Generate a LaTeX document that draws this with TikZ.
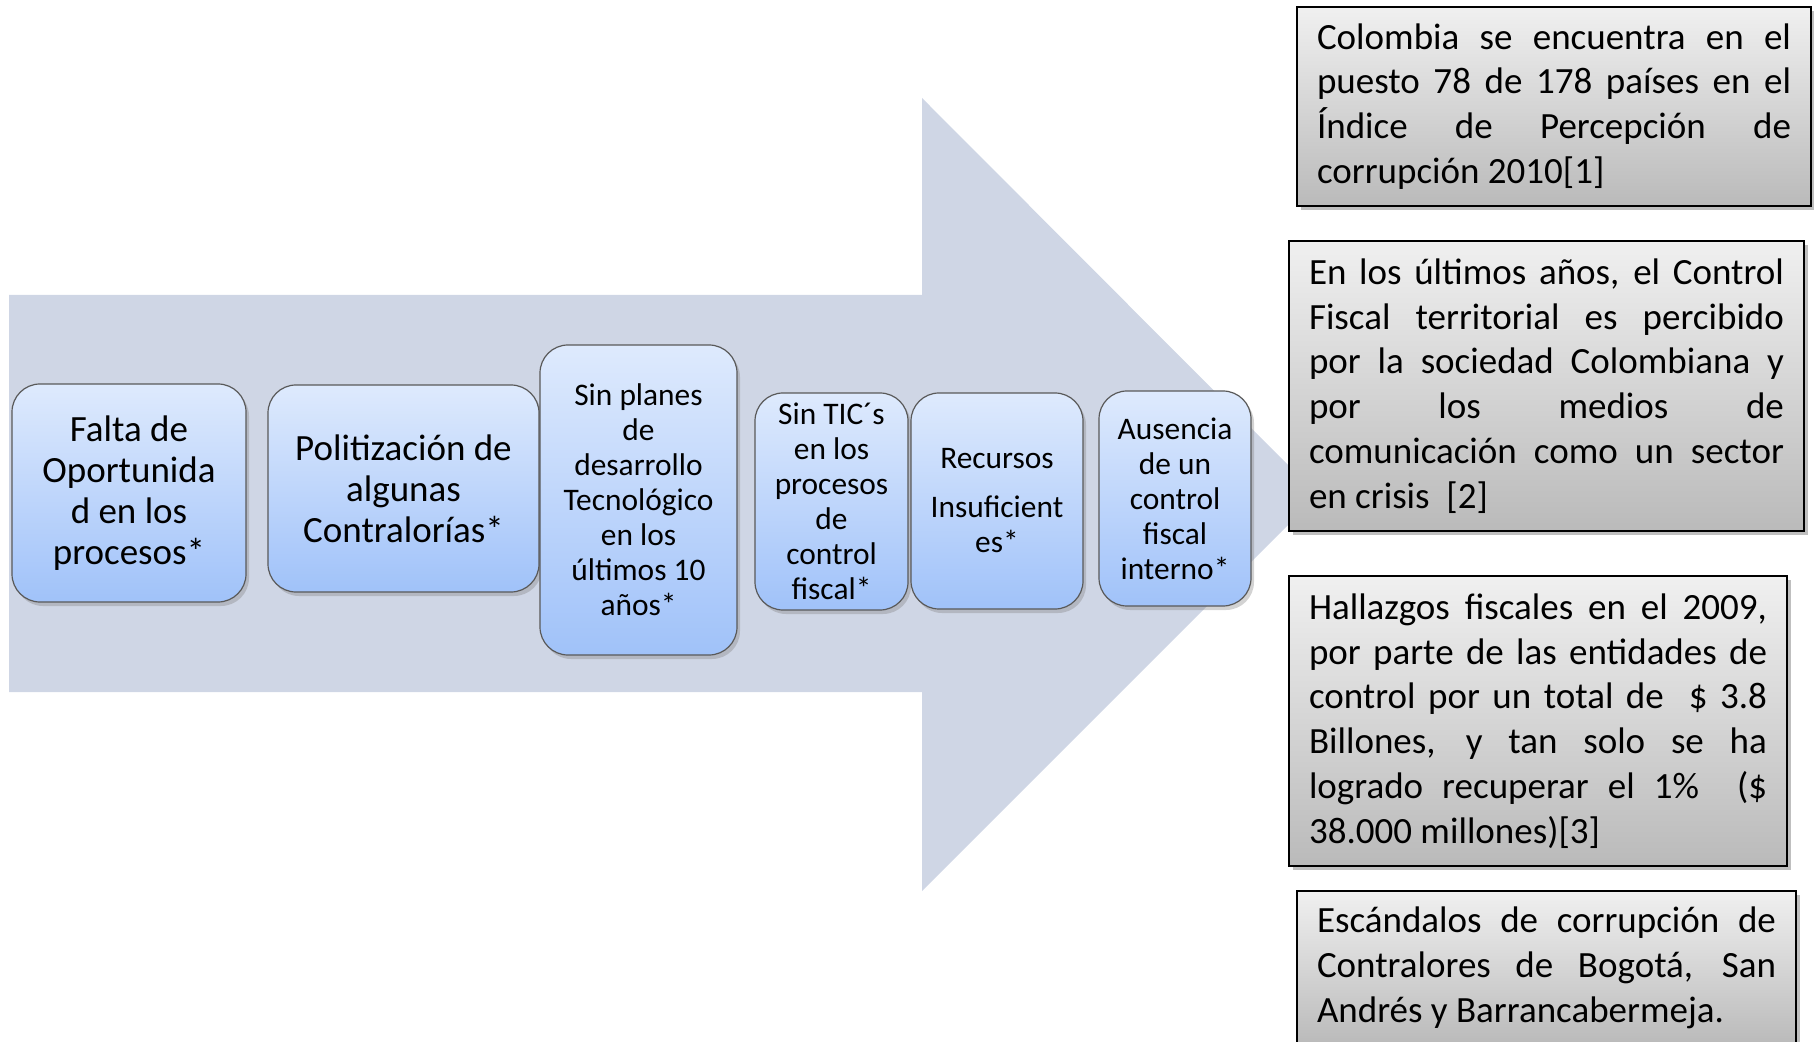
\documentclass[tikz,border=0pt]{standalone}
\usepackage{fontspec}
\setmainfont{Carlito}
\usetikzlibrary{shadows}
\definecolor{flecha}{RGB}{207,214,229}
\definecolor{azulalto}{RGB}{222,234,253}
\definecolor{azulbajo}{RGB}{160,194,249}
\definecolor{grisalto}{RGB}{240,240,240}
\definecolor{grisbajo}{RGB}{186,186,186}
\newcommand{\letragrande}{\fontsize{18.5}{20.5}\selectfont}
\newcommand{\letrachica}{\fontsize{15.7}{17.5}\selectfont}
\newcommand{\letranota}{\fontsize{18.5}{22.4}\selectfont\hyphenpenalty=10000}
\begin{document}
\begin{tikzpicture}[x=.5pt, y=-.5pt,
  causa/.style={draw=gray!70!black, line width=.6pt, rounded corners=14pt,
    top color=azulalto, bottom color=azulbajo, inner sep=0pt, align=center,
    drop shadow={shadow xshift=1.5pt, shadow yshift=-2pt, opacity=.35}},
  dato/.style={draw=black, line width=1pt, anchor=north west,
    top color=grisalto, bottom color=grisbajo, inner xsep=10pt, inner ysep=0pt,
    align=justify, font=\letranota,
    drop shadow={shadow xshift=2pt, shadow yshift=-2pt, opacity=.5}}]
\useasboundingbox (0,0) rectangle (1814,1042);
% flecha de fondo
\fill[flecha](9,295)--(922,295)--(922,98)--(1318,495)--(922,891)--(922,692)--(9,692)--cycle;
% causas
\node(falta) at (129,493)[causa, minimum width=117pt, minimum height=109pt, font=\letragrande]{Falta de\\Oportunida\\d en los\\procesos*};
\node(politica) at (403.5,488.5)[causa, minimum width=135.5pt, minimum height=103.5pt, font=\letragrande]{Politización de\\algunas\\Contralorías*};
\node(planes) at (638.5,500)[causa, minimum width=98.5pt, minimum height=155pt, font=\letrachica]{Sin planes\\de\\desarrollo\\Tecnológico\\en los\\últimos 10\\años*};
\node(tics) at (831.5,501.5)[causa, minimum width=76.5pt, minimum height=108.5pt, font=\letrachica]{Sin TIC´s\\en los\\procesos\\de\\control\\fiscal*};
\node(recursos) at (997,501)[causa, minimum width=86pt, minimum height=108pt, font=\letrachica]{Recursos\\[7pt]Insuficient\\es*};
\node(ausencia) at (1175,498.5)[causa, minimum width=76pt, minimum height=107.5pt, font=\letrachica]{Ausencia\\de un\\control\\fiscal\\interno*};
% datos
\node(indice) at (1296,6)[dato, minimum width=257pt, minimum height=99.5pt, text width=237pt]{Colombia se encuentra en el\linebreak puesto 78 de 178 países en el\linebreak Índice de Percepción de\linebreak corrupción 2010[1]};
\node(percepcion) at (1288,240)[dato, minimum width=257.5pt, minimum height=145pt, text width=237.5pt]{En los últimos años, el Control\linebreak Fiscal territorial es percibido\linebreak por la sociedad Colombiana y\linebreak por los medios de\linebreak comunicación como un sector\linebreak en crisis\ \ [2]};
\node(hallazgos) at (1288,575)[dato, minimum width=249pt, minimum height=145pt, text width=229pt]{Hallazgos fiscales en el 2009,\linebreak por parte de las entidades de\linebreak control por un total de\ \ \$ 3.8\linebreak Billones, y tan solo se ha\linebreak logrado recuperar el 1\%\ \ (\$\linebreak 38.000 millones)[3]};
\node(escandalos) at (1296,890)[dato, minimum width=249.5pt, minimum height=77pt, text width=229.5pt]{Escándalos de corrupción de\linebreak Contralores de Bogotá, San\linebreak Andrés y Barrancabermeja.};
\end{tikzpicture}
\end{document}
